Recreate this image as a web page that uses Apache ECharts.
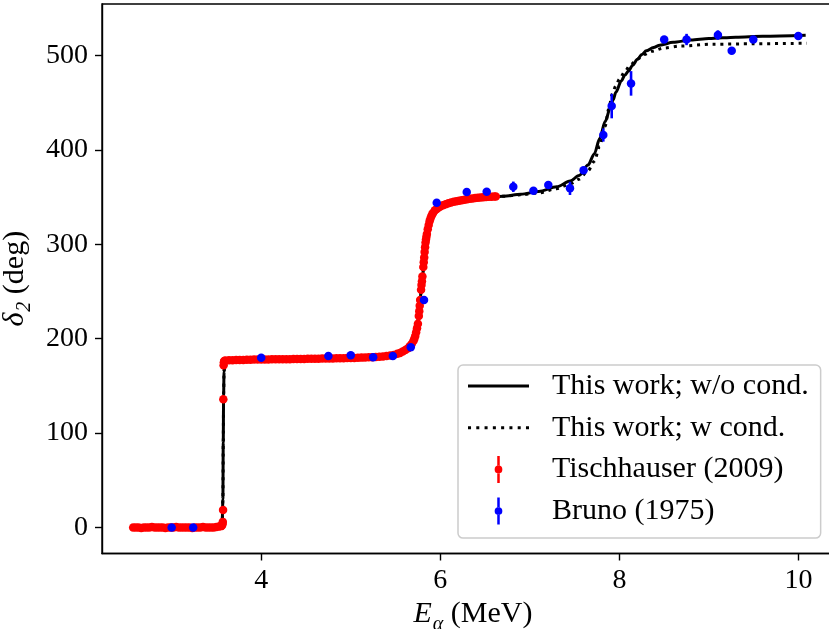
<!DOCTYPE html>
<html><head><meta charset="utf-8">
<script src="https://cdn.jsdelivr.net/npm/echarts@6/dist/echarts.min.js"></script>
<style>html,body{margin:0;padding:0;background:#fff}#c{width:829px;height:629px}</style>
</head><body><div id="c"></div>
<script>
// ---- tick labels ----
const xTicks = [4, 6, 8, 10];
const yTicks = [0, 100, 200, 300, 400, 500];

// ---- model curves ----
const fitX = [2.57,3.0,3.4,3.55,3.565,3.572,3.576,3.58,3.585,3.59,3.6,3.7,4.0,4.5,5.0,5.3,5.5,5.6,5.65,5.7,5.74,5.77,5.8,5.83,5.86,5.9,5.95,6.0,6.1,6.3,6.5,6.7,6.9,7.1,7.3,7.45,7.55,7.65,7.72,7.78,7.84,7.9,7.93,7.96,8.02,8.06,8.1,8.15,8.2,8.25,8.3,8.38,8.45,8.6,8.8,9.0,9.3,9.6,10.08];
const fitY = [0,0.5,1,3,8,30,90,140,165,172,175,177,178,178.5,179.5,181,184,188,192,198,212,238,265,297,316,330,336.5,340.5,344,347.5,349.5,351,353,356,361,367,373,384,396,412,430,445,453,461,473,479,483.5,490,496,501,505,508.5,511,514,516.5,518,519.5,520.5,521.5];
const condX = [2.57,3.0,3.4,3.55,3.565,3.572,3.576,3.58,3.585,3.59,3.6,3.7,4.0,4.5,5.0,5.3,5.5,5.6,5.65,5.7,5.74,5.77,5.8,5.83,5.86,5.9,5.95,6.0,6.1,6.3,6.5,6.7,6.9,7.1,7.3,7.45,7.55,7.65,7.72,7.78,7.84,7.88,7.92,7.96,8.0,8.06,8.12,8.2,8.28,8.36,8.5,8.68,9.04,9.5,10.09];
const condY = [0,0.5,1,3,8,30,90,140,165,172,175,177,178,178.5,179.5,181,184,188,192,198,212,238,265,297,316,330,336.5,340.5,344,347.5,349.5,351,352.5,354.5,359,364,369,378,388,404,425,443,459,468,475,483,490,496,501,504.5,508,510,512,512.5,513];

// ---- Tischhauser (2009) ----
const tischX = [2.57,2.60,2.63,2.66,2.69,2.72,2.75,2.78,2.81,2.84,2.87,2.90,2.93,2.96,2.99,3.02,3.05,3.08,3.11,3.14,3.17,3.20,3.23,3.26,3.29,3.32,3.35,3.38,3.41,3.44,3.47,3.50,3.53,3.55,3.56,
3.568,3.571,3.574,3.577,3.580,3.583,3.587,
3.60,3.64,3.68,3.72,3.76,3.80,3.84,3.88,3.92,3.96,4.00,4.04,4.08,4.12,4.16,4.20,4.24,4.28,4.32,4.36,4.40,4.44,4.48,4.52,4.56,4.60,4.64,4.68,4.72,4.76,4.80,4.84,4.88,4.92,4.96,5.00,5.04,5.08,5.12,5.16,5.20,5.24,5.28,5.32,5.36,5.40,5.44,5.48,
5.52,5.55,5.58,5.61,5.64,5.66,5.68,5.70,5.71,5.72,5.73,5.74,5.75,5.76,5.765,5.77,5.775,5.785,5.79,5.795,5.80,5.81,5.815,5.82,5.825,5.83,5.835,5.84,5.845,5.85,5.86,5.87,5.88,5.89,5.90,5.91,5.92,5.94,5.96,5.98,6.00,6.03,6.06,6.09,6.12,6.15,6.18,6.21,6.24,6.27,6.30,6.33,6.36,6.39,6.42,6.45,6.48,6.51,6.54,6.57,6.60,6.62];
const tischY = [0,0,0,-0.5,0,0,0,0.5,0,0,0,0,-0.5,0,0,0,0.5,0,0,0,0,0,-0.5,0,0,0,0.5,0,0,0,0,0.5,1,1.5,2,
3.5,6,18.5,136,172,175,176.5,
177,177.2,177.3,177.4,177.5,177.6,177.7,177.8,177.9,178,178,178.1,178.1,178.2,178.2,178.3,178.3,178.4,178.4,178.5,178.5,178.6,178.6,178.7,178.7,178.8,178.9,179,179,179.1,179.2,179.3,179.3,179.4,179.5,179.6,179.7,179.8,180,180.1,180.3,180.5,180.7,181,181.3,181.7,182.2,182.8,
184,185,186.5,188,190,192,194.5,197.5,200,203,207,211,216,224,229,235,241,252,257,261,266,276,281,286,292,297,302,305,308,311,316,320.5,324.5,327.5,330,332,333.5,336,337.5,339,340,341.5,342.5,343.5,344.3,345,345.7,346.3,346.8,347.3,347.8,348.2,348.6,349,349.3,349.6,349.9,350.1,350.3,350.5,350.7,350.8];

// ---- Bruno (1975) ----
const brunoX = [3.0,3.24,4.0,4.75,5.0,5.25,5.47,5.67,5.818,5.96,6.295,6.518,6.815,7.04,7.206,7.448,7.6,7.82,7.914,8.13,8.50,8.75,9.10,9.254,9.495,9.998];
const brunoY = [0,0,179.9,181.7,182.4,180.3,181.7,190.9,241,344,355.4,355.7,361,356.8,362.8,359.3,378.5,415.8,446.5,470.5,517,517,521.7,505,517,520.6];
const brunoErr = [1,1,2,2,2,2,2,2,2,2,2,2,5.5,2,2,7,3,7,13,13,2,6,5,2,2,2];

const FONT = 'Liberation Serif';
const errIcon = 'path://M3,0 L5.6,0 L5.6,10.2 L3,10.2 Z M3,17.8 L5.6,17.8 L5.6,28 L3,28 Z M0.3,14 A4,4 0 1,0 8.3,14 A4,4 0 1,0 0.3,14 Z';
const solidIcon = 'path://M0,0 L61,0 L61,3 L0,3 Z';
let dots = '';
for (let k = 0; k < 8; k++) { const a = k * 8.2; dots += 'M' + a + ',0 L' + (a + 3) + ',0 L' + (a + 3) + ',3 L' + a + ',3 Z '; }
const dotIcon = 'path://' + dots.trim();

const nameRich = {
  n: {fontFamily: FONT, fontSize: 30, lineHeight: 32, verticalAlign: 'top', color: '#000'},
  i: {fontFamily: FONT, fontStyle: 'italic', fontSize: 30, lineHeight: 32, verticalAlign: 'top', color: '#000'},
  s: {fontFamily: FONT, fontStyle: 'italic', fontSize: 20, lineHeight: 20, verticalAlign: 'top', padding: [15, 0, 0, 1], color: '#000'}
};

const chart = echarts.init(document.getElementById('c'), null, {renderer: 'canvas'});
chart.setOption({
  animation: false,
  backgroundColor: '#fff',
  grid: {left: 102, top: 4, right: -15, bottom: 75.5, outerBoundsMode: 'none', containLabel: false,
    show: true, borderColor: '#000', borderWidth: 1.4, backgroundColor: 'transparent'},
  xAxis: {
    type: 'value', min: 2.222, max: 10.508,
    axisLine: {show: true, onZero: false, lineStyle: {color: '#000', width: 1.4}},
    axisTick: {show: true, customValues: xTicks, length: 7, lineStyle: {color: '#000', width: 1.4}},
    axisLabel: {customValues: xTicks, fontFamily: FONT, fontSize: 28, color: '#000', margin: 13},
    splitLine: {show: false},
    name: '{i|E}{s|α}{n| (MeV)}', nameLocation: 'middle', nameGap: 42,
    nameTextStyle: {rich: nameRich}
  },
  yAxis: {
    type: 'value', min: -27.5, max: 554.6,
    axisLine: {show: true, onZero: false, lineStyle: {color: '#000', width: 1.4}},
    axisTick: {show: true, customValues: yTicks, length: 7, lineStyle: {color: '#000', width: 1.4}},
    axisLabel: {customValues: yTicks, fontFamily: FONT, fontSize: 28, color: '#000', margin: 14},
    splitLine: {show: false},
    name: '{i|δ}{s|2}{n| (deg)}', nameLocation: 'middle', nameGap: 54,
    nameTextStyle: {rich: nameRich}
  },
  legend: {
    orient: 'vertical', left: 458, top: 365,
    padding: [6, 12, 12, 10],
    itemWidth: 61, itemHeight: 27, itemGap: 11.7,
    backgroundColor: 'rgba(255,255,255,0.8)', borderColor: '#cccccc', borderWidth: 1.5, borderRadius: 5,
    textStyle: {fontFamily: FONT, fontSize: 30, color: '#000', padding: [0, 0, 0, 18]},
    data: [
      {name: 'This work; w/o cond.', icon: solidIcon, itemStyle: {color: '#000'}},
      {name: 'This work; w cond.', icon: dotIcon, itemStyle: {color: '#000'}},
      {name: 'Tischhauser (2009)', icon: errIcon},
      {name: 'Bruno (1975)', icon: errIcon}
    ]
  },
  series: [
    {type: 'line', name: 'This work; w/o cond.', data: fitX.map((x, i) => [x, fitY[i]]), symbol: 'none', smooth: 0.3, smoothMonotone: 'x',
      lineStyle: {color: '#000', width: 3}, itemStyle: {color: '#000'}, z: 2, silent: true},
    {type: 'line', name: 'This work; w cond.', data: condX.map((x, i) => [x, condY[i]]), symbol: 'none', smooth: 0.3, smoothMonotone: 'x',
      lineStyle: {color: '#000', width: 3, type: [3, 4.8], cap: 'butt'}, itemStyle: {color: '#000'}, z: 2, silent: true},
    {type: 'scatter', name: 'Tischhauser (2009)', data: tischX.map((x, i) => [x, tischY[i]]), symbol: 'circle', symbolSize: 8.5,
      itemStyle: {color: '#ff0000', opacity: 1}, z: 3, silent: true},
    {type: 'custom', name: 'bruno-err', data: brunoX.map((x, i) => [x, brunoY[i], brunoErr[i]]), z: 4, silent: true,
      renderItem: function (params, api) {
        const x = api.value(0), y = api.value(1), e = api.value(2);
        const p1 = api.coord([x, y - e]), p2 = api.coord([x, y + e]);
        return {type: 'line', shape: {x1: p1[0], y1: p1[1], x2: p2[0], y2: p2[1]}, style: {stroke: '#0000ff', lineWidth: 2.6, lineCap: 'butt'}};
      }},
    {type: 'scatter', name: 'Bruno (1975)', data: brunoX.map((x, i) => [x, brunoY[i]]), symbol: 'circle', symbolSize: 8.5,
      itemStyle: {color: '#0000ff', opacity: 1}, z: 5, silent: true}
  ]
});
</script></body></html>
